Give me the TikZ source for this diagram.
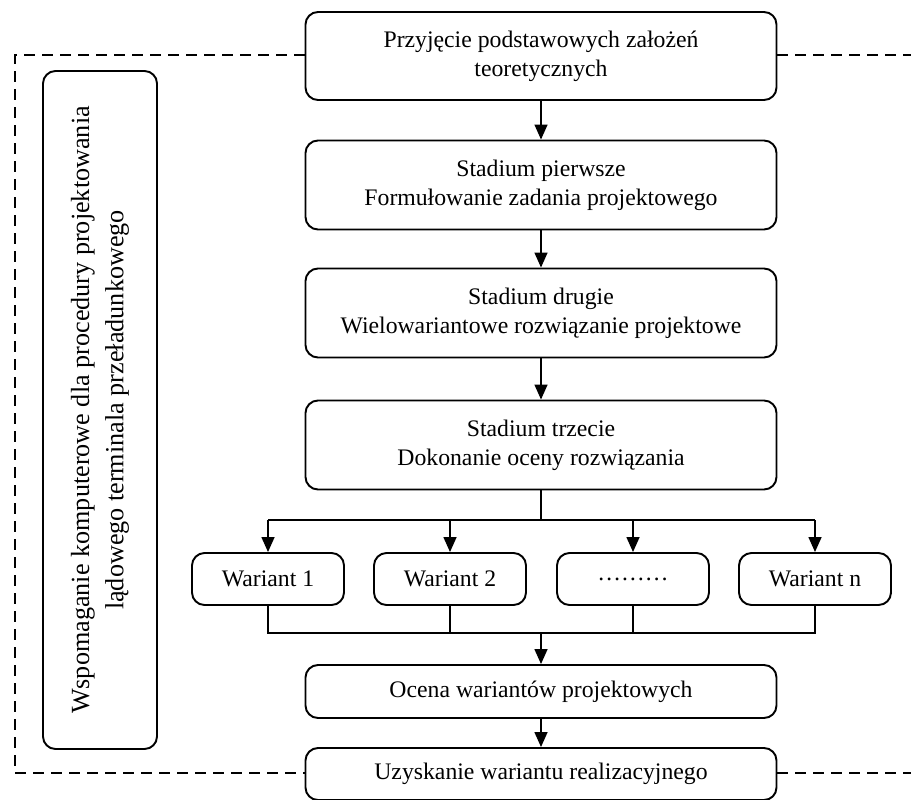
\documentclass[tikz,border=0pt]{standalone}
\usepackage{fontspec}
\setmainfont{Liberation Serif}
\usetikzlibrary{arrows.meta}

\begin{document}
\begin{tikzpicture}[
  box/.style={draw, line width=1.1pt, rounded corners=2.5mm, minimum width=9.42cm, minimum height=1.78cm, align=center, font=\fontsize{13.5}{16.5}\selectfont},
  varbox/.style={box, minimum width=3.04cm, minimum height=1.04cm},
  flowline/.style={line width=0.85pt},
  flowarrow/.style={flowline, -{Triangle[length=3mm, width=2.6mm]}},
  dashline/.style={line width=1.1pt, dash pattern=on 0.21cm off 0.15cm}]
\useasboundingbox (0,0) rectangle (18.22,15.98);
\node[box, minimum height=1.76cm] (base) at (10.82,14.86) {Przyjęcie podstawowych założeń\\teoretycznych};
\node[box] (stage1) at (10.82,12.28) {Stadium pierwsze\\Formułowanie zadania projektowego};
\node[box] (stage2) at (10.82,9.72) {Stadium drugie\\Wielowariantowe rozwiązanie projektowe};
\node[box] (stage3) at (10.82,7.08) {Stadium trzecie\\Dokonanie oceny rozwiązania};
\node[varbox] (var1) at (5.36,4.40) {Wariant 1};
\node[varbox] (var2) at (9.00,4.40) {Wariant 2};
\node[varbox] (var3) at (12.66,4.40) {………};
\node[varbox] (var4) at (16.30,4.40) {Wariant n};
\node[box, minimum height=1.06cm] (eval) at (10.82,2.15) {Ocena wariantów projektowych};
\node[box, minimum height=1.04cm] (final) at (10.82,0.50) {Uzyskanie wariantu realizacyjnego};
\node[box, rotate=90, minimum width=13.56cm, minimum height=2.28cm, font=\fontsize{14.9}{19.5}\selectfont] (support) at (2.0,7.78) {Wspomaganie komputerowe dla procedury projektowania\\lądowego terminala przeładunkowego};
\coordinate (split) at (10.82,5.58);
\coordinate (merge) at (10.82,3.32);
\coordinate (dtl) at (0.3,14.88);
\coordinate (dbl) at (0.3,0.52);
\coordinate (dtr) at (18.22,14.88);
\coordinate (dbr) at (18.22,0.52);
% main chain
\draw[flowarrow] (base) -- (stage1);
\draw[flowarrow] (stage1) -- (stage2);
\draw[flowarrow] (stage2) -- (stage3);
% branching to variants
\draw[flowline] (stage3) -- (split);
\draw[flowline] (var1 |- split) -- (var4 |- split);
\draw[flowarrow] (var1 |- split) -- (var1);
\draw[flowarrow] (var2 |- split) -- (var2);
\draw[flowarrow] (var3 |- split) -- (var3);
\draw[flowarrow] (var4 |- split) -- (var4);
\draw[flowline] (var1) -- (var1 |- merge) -- (var4 |- merge) -- (var4);
\draw[flowline] (var2) -- (var2 |- merge);
\draw[flowline] (var3) -- (var3 |- merge);
\draw[flowarrow] (merge) -- (eval);
\draw[flowarrow] (eval) -- (final);
% dashed frame
\draw[dashline] (base.west |- dtl) -- (dtl) -- (dbl) -- (final.west |- dbl);
\draw[dashline] (base.east |- dtr) -- (dtr);
\draw[dashline] (final.east |- dbr) -- (dbr);
\end{tikzpicture}
\end{document}
